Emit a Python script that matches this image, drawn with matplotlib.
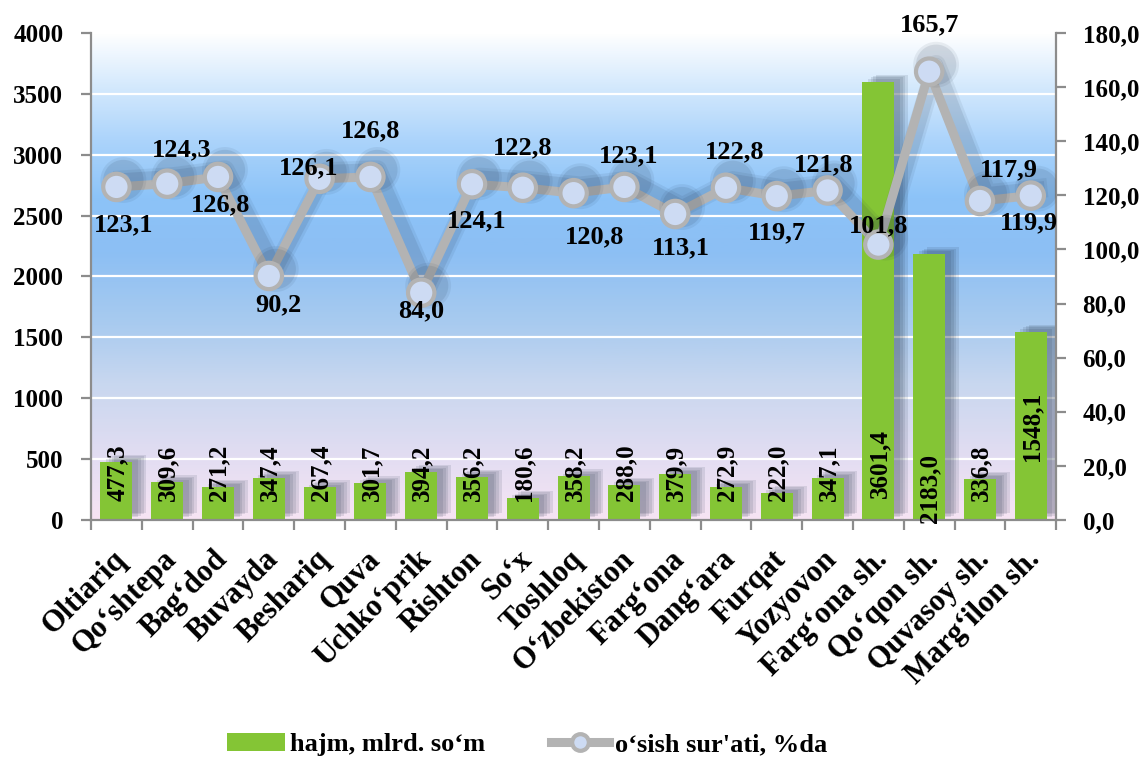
import numpy as np
import matplotlib
matplotlib.use('Agg')
import matplotlib.pyplot as plt
import matplotlib.patheffects as pe
from matplotlib.colors import LinearSegmentedColormap
from matplotlib.transforms import ScaledTranslation
from matplotlib.lines import Line2D
from matplotlib.patches import Patch

# data
districts = ['Oltiariq', 'Qo‘shtepa', 'Bag‘dod', 'Buvayda', 'Beshariq', 'Quva',
             'Uchko‘prik', 'Rishton', 'So‘x', 'Toshloq', 'O‘zbekiston',
             'Farg‘ona', 'Dang‘ara', 'Furqat', 'Yozyovon', 'Farg‘ona sh.',
             'Qo‘qon sh.', 'Quvasoy sh.', 'Marg‘ilon sh.']
volume = [477.3, 309.6, 271.2, 347.4, 267.4, 301.7, 394.2, 356.2, 180.6, 358.2,
          288.0, 379.9, 272.9, 222.0, 347.1, 3601.4, 2183.0, 336.8, 1548.1]
growth = [123.1, 124.3, 126.8, 90.2, 126.1, 126.8, 84.0, 124.1, 122.8, 120.8,
          123.1, 113.1, 122.8, 119.7, 121.8, 101.8, 165.7, 117.9, 119.9]

# label placement (pixels) for the growth labels
growth_off = [(7, -38), (14, 34), (3, -28), (10, -29), (-11, 11), (0, 46),
              (0, -18), (5, -37), (0, 40), (21, -44), (4, 31), (6, -34),
              (9, 36), (0, -37), (-4, 26), (0, 19), (0, 47), (29, 31), (-2, -27)]
# extra vertical shift (pixels) of the bar labels
bar_lab_shift = [0] * 15 + [3, -22, 0, 40]

plt.rcParams['font.family'] = ['Liberation Serif', 'DejaVu Serif']
plt.rcParams['font.weight'] = 'bold'

fig = plt.figure(figsize=(11.48, 7.76), dpi=100)
ax = fig.add_axes([0.0793, 0.3299, 0.8407, 0.6276])
ax2 = ax.twinx()

n = len(districts)
x = np.arange(n)

# gradient background
cmap = LinearSegmentedColormap.from_list('bg', [
    (0.0, '#f7e4f4'), (0.13, '#e2ddf2'), (0.28, '#c8d7ef'), (0.4, '#a9cbef'),
    (0.55, '#8cbff4'), (0.66, '#8cc3f8'), (0.78, '#acd4fb'), (0.9, '#d8ebfd'),
    (1.0, '#ffffff')])
grad = np.linspace(0, 1, 256).reshape(-1, 1)
ax.imshow(grad, cmap=cmap, origin='lower', aspect='auto',
          extent=[-0.5, n - 0.5, 0, 4000], zorder=0)

ax.set_xlim(-0.5, n - 0.5)
ax.set_ylim(0, 4000)
ax.set_yticks(np.arange(0, 4001, 500))
for yv in np.arange(500, 4001, 500):
    ax.axhline(yv, color='white', lw=1.6, zorder=1)

# soft shadow made of a few faint offset copies
shadow_col = '#1a2a40'
bar_fx = [pe.SimplePatchShadow(offset=(o, o * 0.5), shadow_rgbFace=shadow_col, alpha=0.11)
          for o in (10, 8, 6, 4)] + [pe.Normal()]
line_fx = [pe.SimpleLineShadow(offset=(5, 5), shadow_color=shadow_col, alpha=a, linewidth=w)
           for a, w in ((0.07, 14), (0.1, 10))] + [pe.Normal()]

bars = ax.bar(x, volume, width=0.63, color='#84c535', zorder=2)
for b in bars:
    b.set_path_effects(bar_fx)

for i, v in enumerate(volume):
    ax.annotate(f'{v:.1f}'.replace('.', ','), (x[i], 0), xytext=(1, 19 + bar_lab_shift[i]),
                textcoords='offset pixels', rotation=90, ha='center', va='bottom',
                fontsize=18, fontweight='bold', zorder=3)

ax2.set_ylim(0, 180)
ax2.set_yticks(np.arange(0, 181, 20))
ax2.set_yticklabels([f'{t:.1f}'.replace('.', ',') for t in np.arange(0, 181, 20)])
ax2.plot(x, growth, color='#b3b3b3', lw=6.5, marker='o', markersize=19,
         markerfacecolor='#cddbf3', markeredgecolor='#b3b3b3', markeredgewidth=3,
         zorder=4, path_effects=line_fx)
for i, g in enumerate(growth):
    ax2.annotate(f'{g:.1f}'.replace('.', ','), (x[i], g), xytext=growth_off[i],
                 textcoords='offset pixels', ha='center', va='center',
                 fontsize=19, fontweight='bold', zorder=5)

# axes styling
spine_col = '#8c8c8c'
for a in (ax, ax2):
    a.spines['top'].set_visible(False)
    for s in ('left', 'right', 'bottom'):
        a.spines[s].set_color(spine_col)
        a.spines[s].set_linewidth(1.6)
ax2.spines['left'].set_visible(False)
ax.spines['right'].set_visible(False)
ax2.spines['bottom'].set_visible(False)

ax.tick_params(axis='y', length=7, width=1.6, color=spine_col, pad=13, labelsize=18)
ax2.tick_params(axis='y', length=7, width=1.6, color=spine_col, pad=12, labelsize=18)

ax.set_xticks(x)
ax.set_xticklabels(districts, rotation=45, ha='right', va='top',
                   rotation_mode='anchor', fontsize=22, fontweight='bold')
ax.set_xticks(np.arange(-0.5, n, 1), minor=True)
ax.tick_params(axis='x', which='major', length=0, pad=18)
ax.tick_params(axis='x', which='minor', length=7, width=1.6, color=spine_col)
for lab in ax.get_xticklabels():
    lab.set_transform(lab.get_transform() + ScaledTranslation(-5 / 100, 0, fig.dpi_scale_trans))

handles = [Patch(facecolor='#84c535', edgecolor='none'),
           Line2D([], [], color='#b3b3b3', lw=6.5, marker='o', markersize=12,
                  markerfacecolor='#cddbf3', markeredgecolor='#b3b3b3', markeredgewidth=3)]
fig.legend(handles, ['hajm, mlrd. so‘m', "o‘sish sur'ati, %da"], loc='lower center',
           bbox_to_anchor=(0.459, -0.005), ncol=2, frameon=False,
           prop={'size': 19, 'weight': 'bold'}, handlelength=2.2, columnspacing=2.5,
           handletextpad=0.2)

fig.savefig('out.png', dpi=100)
